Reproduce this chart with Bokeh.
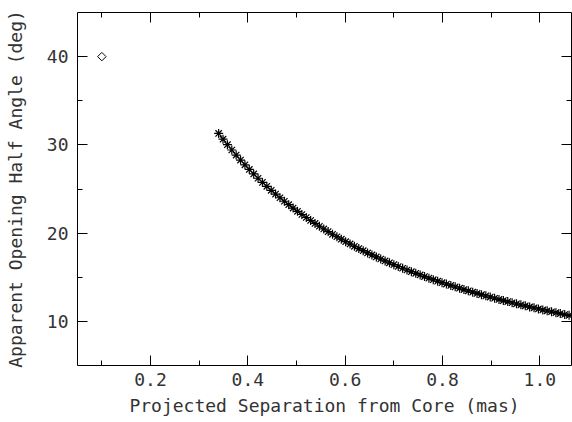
from bokeh.plotting import figure
from bokeh.models import LinearAxis, FixedTicker, Range1d, CustomJSTickFormatter
from bokeh.embed import file_html
from bokeh.resources import INLINE

# ---- data ----
core_x = [0.10]
core_y = [40.0]

sep_x = [0.340, 0.349, 0.358, 0.367, 0.376, 0.385, 0.394, 0.403, 0.412, 0.421,
         0.430, 0.439, 0.448, 0.457, 0.466, 0.475, 0.484, 0.493, 0.502, 0.511,
         0.520, 0.529, 0.538, 0.547, 0.556, 0.565, 0.574, 0.583, 0.592, 0.601,
         0.610, 0.619, 0.628, 0.637, 0.646, 0.655, 0.664, 0.673, 0.682, 0.691,
         0.700, 0.709, 0.718, 0.727, 0.736, 0.745, 0.754, 0.763, 0.772, 0.781,
         0.790, 0.799, 0.808, 0.817, 0.826, 0.835, 0.844, 0.853, 0.862, 0.871,
         0.880, 0.889, 0.898, 0.907, 0.916, 0.925, 0.934, 0.943, 0.952, 0.961,
         0.970, 0.979, 0.988, 0.997, 1.006, 1.015, 1.024, 1.033, 1.042, 1.051,
         1.060]
angle_y = [31.30, 30.65, 30.02, 29.42, 28.84, 28.28, 27.74, 27.22, 26.71, 26.22,
           25.75, 25.30, 24.85, 24.43, 24.01, 23.61, 23.22, 22.84, 22.47, 22.11,
           21.77, 21.43, 21.10, 20.78, 20.47, 20.17, 19.87, 19.59, 19.31, 19.03,
           18.77, 18.51, 18.25, 18.01, 17.76, 17.53, 17.30, 17.07, 16.85, 16.64,
           16.43, 16.22, 16.02, 15.82, 15.63, 15.44, 15.26, 15.08, 14.90, 14.73,
           14.56, 14.39, 14.23, 14.07, 13.91, 13.76, 13.60, 13.46, 13.31, 13.17,
           13.03, 12.89, 12.75, 12.62, 12.49, 12.36, 12.24, 12.11, 11.99, 11.87,
           11.76, 11.64, 11.53, 11.41, 11.30, 11.20, 11.09, 10.99, 10.88, 10.78,
           10.68]

x_major = [0.2, 0.4, 0.6, 0.8, 1.0]
x_minor = [0.1, 0.3, 0.5, 0.7, 0.9]
x_labels = ["0.2", "0.4", "0.6", "0.8", "1.0"]
y_major = [10, 20, 30, 40]
y_minor = [15, 25, 35]
y_labels = ["10", "20", "30", "40"]

FONT = "DejaVu Sans Mono"
TXT = "#333333"

p = figure(width=572, height=422, output_backend="svg", toolbar_location=None,
           x_range=Range1d(0.05, 1.065), y_range=Range1d(5, 45),
           x_axis_label="Projected Separation from Core (mas)",
           y_axis_label="Apparent Opening Half Angle (deg)",
           min_border_left=77, min_border_right=1, min_border_top=12,
           min_border_bottom=57)
p.grid.visible = False
p.outline_line_color = None
p.background_fill_color = "white"
p.border_fill_color = "white"


def style(ax, ticks, minor, labels, show_labels):
    ax.ticker = FixedTicker(ticks=ticks, minor_ticks=minor)
    ax.axis_line_color = "black"
    ax.axis_line_width = 1
    ax.major_tick_line_color = "black"
    ax.minor_tick_line_color = "black"
    ax.major_tick_in = 10
    ax.major_tick_out = 0
    ax.minor_tick_in = 5
    ax.minor_tick_out = 0
    ax.major_label_text_font = FONT
    ax.major_label_text_color = TXT
    ax.major_label_text_font_size = "18px"
    ax.axis_label_text_font = FONT
    ax.axis_label_text_color = TXT
    ax.axis_label_text_font_style = "normal"
    ax.axis_label_text_font_size = "18px"
    if show_labels:
        ax.major_label_overrides = dict(zip(ticks, labels))
    else:
        ax.formatter = CustomJSTickFormatter(code="return ''")
        ax.major_label_standoff = 0


xa = p.xaxis[0]
ya = p.yaxis[0]
style(xa, x_major, x_minor, x_labels, True)
style(ya, y_major, y_minor, y_labels, True)
xa.major_label_standoff = 7
xa.axis_label_standoff = 6
ya.major_label_standoff = 9
ya.axis_label_standoff = 18

top = LinearAxis()
style(top, x_major, x_minor, x_labels, False)
p.add_layout(top, "above")
right = LinearAxis()
style(right, y_major, y_minor, y_labels, False)
p.add_layout(right, "right")

p.scatter(core_x, core_y, marker="square", angle=0.785398, size=6,
          fill_color=None, line_color="black", line_width=1)
p.scatter(sep_x, angle_y, marker="asterisk", size=9,
          line_color="black", line_width=1.2)

open("out.html", "w").write(file_html(p, INLINE))
